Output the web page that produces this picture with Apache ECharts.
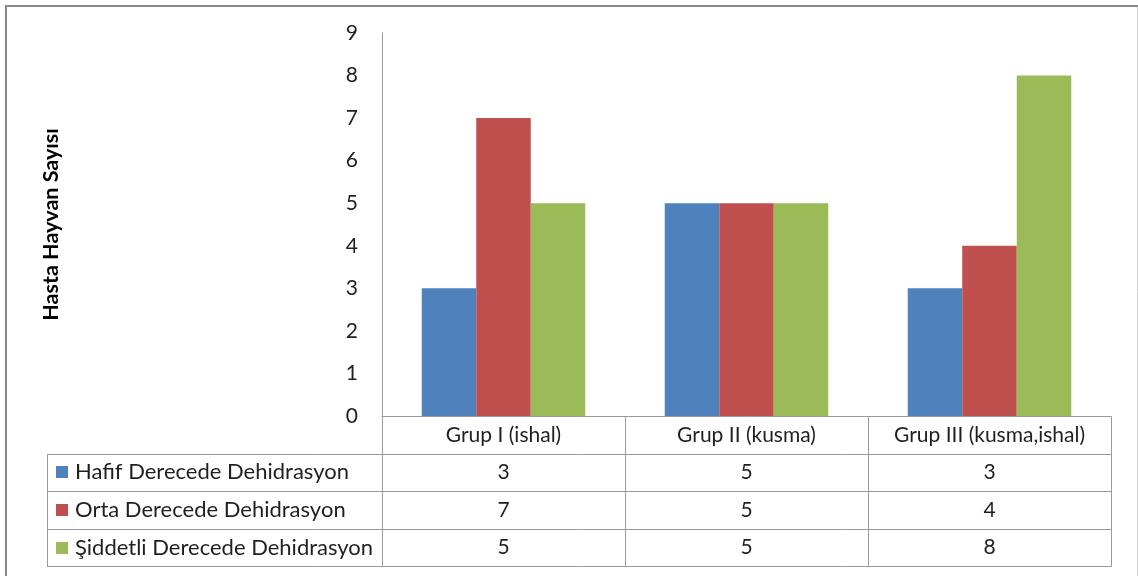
<!DOCTYPE html>
<html>
<head>
<meta charset="utf-8">
<style>
  html, body { margin: 0; padding: 0; background: #fff; }
  #chart { width: 1138px; height: 576px; }
</style>
<script src="https://cdn.jsdelivr.net/npm/echarts@6/dist/echarts.min.js"></script>
</head>
<body>
<div id="chart"></div>
<script>
// Dehidrasyon derecesine göre gruplardaki hasta hayvan sayıları
const categories = ['Grup I (ishal)', 'Grup II (kusma)', 'Grup III (kusma,ishal)'];
const seriesNames = ['Hafif Derecede Dehidrasyon', 'Orta Derecede Dehidrasyon', 'Şiddetli Derecede Dehidrasyon'];
const hafif = [3, 5, 3];
const orta = [7, 5, 4];
const siddetli = [5, 5, 8];
const yTickValues = [0, 1, 2, 3, 4, 5, 6, 7, 8, 9];
const yAxisTitle = 'Hasta Hayvan Sayısı';

const seriesValues = [hafif, orta, siddetli];
const colors = ['#4F81BD', '#C0504D', '#9BBB59'];

const FONT = 'Lato, "Noto Sans", sans-serif';
const TEXT_COLOR = '#1f1f1f';
const LINE_COLOR = '#9a9a9a';

const GRID = { left: 382, top: 33, width: 729, height: 383 };
const ROW_H = 37.6;
const TABLE_LEFT = 47;

const chart = echarts.init(document.getElementById('chart'), null, { renderer: 'canvas' });

chart.setOption({
  animation: false,
  backgroundColor: '#ffffff',
  grid: { left: GRID.left, top: GRID.top, width: GRID.width, height: GRID.height, containLabel: false },
  xAxis: {
    type: 'category',
    data: categories,
    axisLine: { show: true, lineStyle: { color: LINE_COLOR, width: 1 } },
    axisTick: { show: false },
    axisLabel: {
      fontFamily: FONT, fontSize: 21, color: TEXT_COLOR,
      margin: ROW_H / 2, verticalAlign: 'middle', interval: 0
    },
    splitLine: { show: false }
  },
  yAxis: {
    type: 'value',
    min: yTickValues[0],
    max: yTickValues[yTickValues.length - 1],
    interval: 1,
    name: yAxisTitle,
    nameLocation: 'middle',
    nameRotate: 90,
    nameGap: 320,
    nameTextStyle: { fontFamily: FONT, fontSize: 21.5, fontWeight: 'bold', color: '#000' },
    axisLine: { show: true, lineStyle: { color: LINE_COLOR, width: 1 } },
    axisTick: { show: false },
    axisLabel: { fontFamily: FONT, fontSize: 21, color: TEXT_COLOR, margin: 24 },
    splitLine: { show: false }
  },
  series: seriesNames.map((name, i) => ({
    name,
    type: 'bar',
    data: seriesValues[i],
    itemStyle: { color: colors[i] },
    barGap: '0%',
    barCategoryGap: '32.7%'
  }))
});

// Veri tablosu: kategori ekseninin altındaki satırlar
function drawTable() {
  const centers = categories.map((c, i) => chart.convertToPixel({ xAxisIndex: 0 }, i));
  const band = centers.length > 1 ? centers[1] - centers[0] : GRID.width;
  const colEdges = [centers[0] - band / 2].concat(centers.map(c => c + band / 2));
  const axisY = chart.convertToPixel({ yAxisIndex: 0 }, 0);
  const right = colEdges[colEdges.length - 1];
  const els = [];
  const line = (x1, y1, x2, y2, color, width) => els.push({
    type: 'line', silent: true,
    shape: { x1, y1, x2, y2 },
    style: { stroke: color || LINE_COLOR, lineWidth: width || 1 }
  });
  const crisp = v => Math.round(v) + 0.5;

  const rowTops = [axisY + ROW_H, axisY + 2 * ROW_H, axisY + 3 * ROW_H];
  const tableBottom = axisY + 4 * ROW_H;

  // yatay çizgiler
  rowTops.concat([tableBottom]).forEach(y => line(TABLE_LEFT, crisp(y), crisp(right), crisp(y)));
  // dikey çizgiler
  colEdges.forEach(x => line(crisp(x), crisp(axisY), crisp(x), crisp(tableBottom)));
  line(crisp(TABLE_LEFT), crisp(rowTops[0]), crisp(TABLE_LEFT), crisp(tableBottom));

  seriesNames.forEach((name, r) => {
    const cy = rowTops[r] + ROW_H / 2;
    els.push({
      type: 'rect', silent: true,
      shape: { x: 56, y: Math.round(cy - 6), width: 12, height: 12 },
      style: { fill: colors[r] }
    });
    els.push({
      type: 'text', silent: true,
      x: 75, y: cy,
      style: { text: name, font: '22px ' + FONT, fill: TEXT_COLOR, textVerticalAlign: 'middle', textAlign: 'left' }
    });
    seriesValues[r].forEach((v, c) => {
      els.push({
        type: 'text', silent: true,
        x: centers[c], y: cy,
        style: { text: String(v), font: '21px ' + FONT, fill: TEXT_COLOR, textVerticalAlign: 'middle', textAlign: 'center' }
      });
    });
  });

  // grafik alanının çerçevesi
  line(5, 6, 1138, 6, '#888888', 2);
  line(6, 5, 6, 576, '#888888', 2);
  line(1137.5, 7, 1137.5, 576, '#d4d4d4', 1);

  chart.setOption({ graphic: els });
}

drawTable();
</script>
</body>
</html>
